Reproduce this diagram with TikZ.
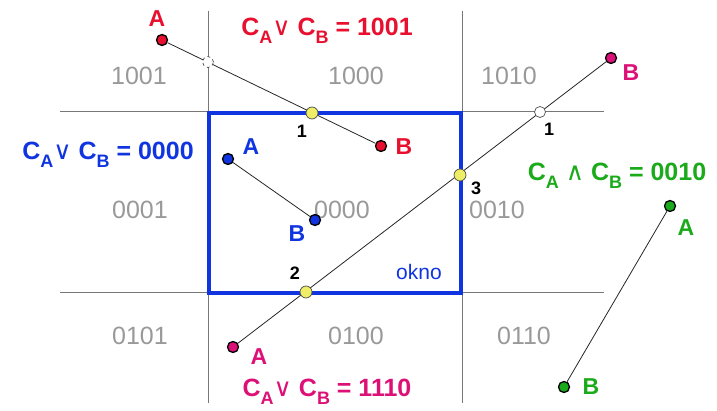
\documentclass[tikz,border=0pt]{standalone}
\usepackage{fontspec}
\setmainfont{Liberation Sans}
\newfontfamily\symfont{DejaVu Sans}
\definecolor{cred}{HTML}{E8102E}
\definecolor{cmag}{HTML}{DD1077}
\definecolor{cblue}{HTML}{1034E0}
\definecolor{cgreen}{HTML}{1AAA1A}
\definecolor{cgray}{HTML}{999999}
\definecolor{cgrid}{HTML}{777777}
\definecolor{cyel}{HTML}{EEEE66}
\newcommand{\lsub}[1]{\raisebox{-0.3em}{\fontsize{18}{18}\selectfont #1}}
\newcommand{\fvee}{{\mdseries\symfont ∨}}
\newcommand{\fwedge}{{\mdseries\symfont ∧}}
\tikzset{
  region/.style={text=cgray, font=\fontsize{25}{25}\selectfont},
  formula/.style={font=\bfseries\fontsize{25}{25}\selectfont},
  letter/.style={font=\bfseries\fontsize{23}{23}\selectfont},
  num/.style={font=\bfseries\fontsize{18}{18}\selectfont, text=black},
  endpt/.style={circle, draw=black, line width=1.3pt, minimum size=11pt, inner sep=0pt},
  ipt/.style={circle, draw=black!70, line width=0.7pt, fill=cyel, minimum size=12pt, inner sep=0pt},
  opt/.style={circle, draw=black!70, line width=0.7pt, fill=white, minimum size=11pt, inner sep=0pt},
  grid/.style={draw=cgrid, line width=1pt},
  seg/.style={draw=black!85, line width=0.8pt},
}
\begin{document}
\begin{tikzpicture}[x=1pt,y=-1pt]
\useasboundingbox (0,0) rectangle (717,411);
% grid lines
\coordinate (v1t) at (208,11); \coordinate (v1b) at (208,403);
\coordinate (v2t) at (462,11); \coordinate (v2b) at (462,403);
\coordinate (h1l) at (60,112); \coordinate (h1r) at (604,112);
\coordinate (h2l) at (60,293); \coordinate (h2r) at (604,293);
\draw[grid] (v1t) -- (v1b);
\draw[grid] (v2t) -- (v2b);
\draw[grid] (h1l) -- (h1r);
\draw[grid] (h2l) -- (h2r);
% window
\coordinate (w1) at (209,113); \coordinate (w2) at (461,293);
\draw[cblue, line width=3.4pt] (w1) rectangle (w2);
\node[text=cblue, font=\fontsize{21}{21}\selectfont] (okno) at (419,272) {okno};
% region codes
\node[region] (r1) at (139,76) {1001};
\node[region] (r2) at (356,76) {1000};
\node[region] (r3) at (509,76) {1010};
\node[region] (r4) at (140,210) {0001};
\node[region] (r5) at (342,210) {0000};
\node[region] (r6) at (497,210) {0010};
\node[region] (r7) at (140,336) {0101};
\node[region] (r8) at (356,336) {0100};
\node[region] (r9) at (524,336) {0110};
% segment 1 (red)
\node[endpt, fill=cred] (a1) at (162,40) {};
\node[endpt, fill=cred] (b1) at (381,146) {};
\draw[seg] (a1) -- (b1);
\node[opt, dashed] (c1) at (208,62) {};
\node[ipt] (i1) at (312,113) {};
\node[letter, text=cred] (la1) at (157,19) {A};
\node[letter, text=cred] (lb1) at (404,147) {B};
\node[num] (n1) at (302,131) {1};
\node[formula, text=cred] (f1) at (327,31) {C\lsub{A}\fvee\ C\lsub{B} = 1001};
% segment 2 (magenta)
\node[endpt, fill=cmag] (a2) at (233,347) {};
\node[endpt, fill=cmag] (b2) at (611,58) {};
\draw[seg] (a2) -- (b2);
\node[ipt] (i2) at (306,292) {};
\node[ipt] (i3) at (460,175) {};
\node[opt] (c2) at (540,112) {};
\node[letter, text=cmag] (la2) at (259,357) {A};
\node[letter, text=cmag] (lb2) at (631,73) {B};
\node[num] (n2) at (295,273) {2};
\node[num] (n3) at (476,188) {3};
\node[num] (n4) at (549,129) {1};
\node[formula, text=cmag] (f2) at (327,392) {C\lsub{A}\fvee\ C\lsub{B} = 1110};
% segment 3 (blue)
\node[endpt, fill=cblue] (a3) at (228,159) {};
\node[endpt, fill=cblue] (b3) at (315,220) {};
\draw[seg] (a3) -- (b3);
\node[letter, text=cblue] (la3) at (251,147) {A};
\node[letter, text=cblue] (lb3) at (297,234) {B};
\node[formula, text=cblue] (f3) at (108,155) {C\lsub{A}\fvee\ C\lsub{B} = 0000};
% segment 4 (green)
\node[endpt, fill=cgreen] (a4) at (670,206) {};
\node[endpt, fill=cgreen] (b4) at (564,387) {};
\draw[seg] (a4) -- (b4);
\node[letter, text=cgreen] (la4) at (686,228) {A};
\node[letter, text=cgreen] (lb4) at (591,387) {B};
\node[formula, text=cgreen] (f4) at (617,176) {C\lsub{A} \fwedge\ C\lsub{B} = 0010};
\end{tikzpicture}
\end{document}
